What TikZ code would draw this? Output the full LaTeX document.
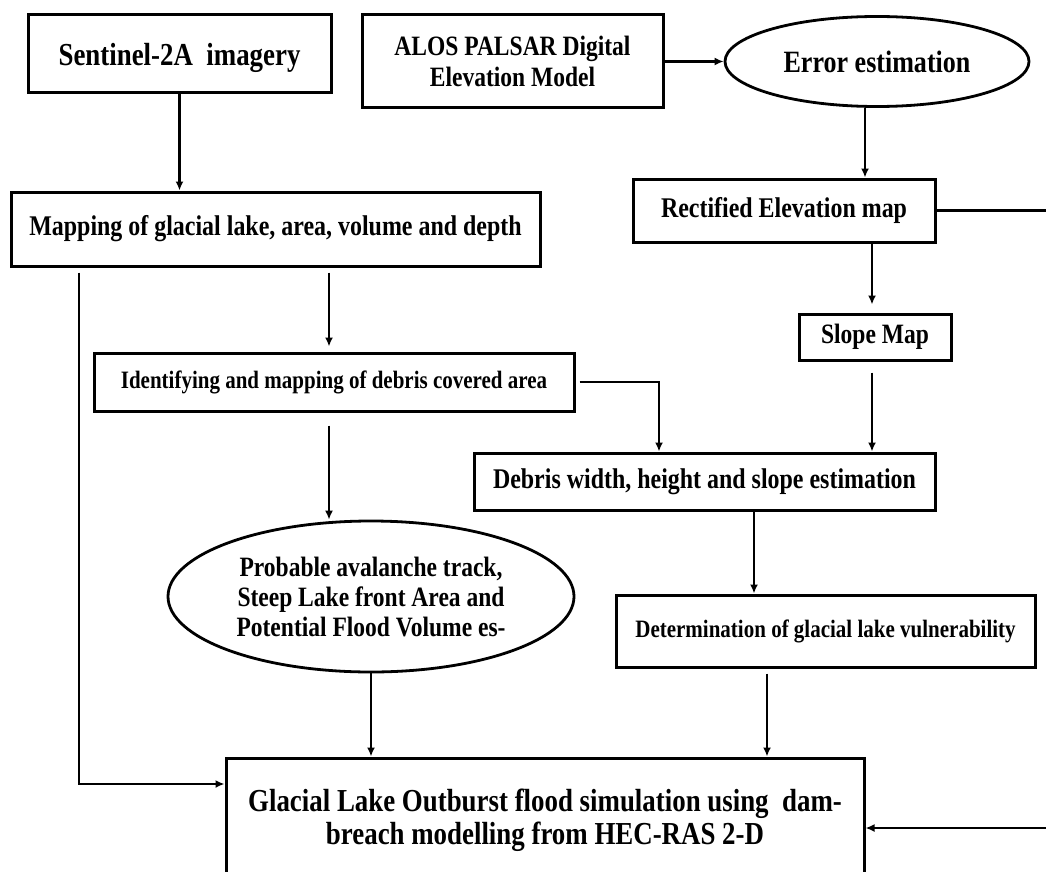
\documentclass[tikz,border=0pt]{standalone}
\usepackage{fontspec}
\setmainfont{Liberation Serif}[FakeStretch=0.84]
\usetikzlibrary{positioning, arrows.meta, shapes.geometric}
\newcommand{\fsz}[2]{\fontsize{#1}{#2}\selectfont\bfseries}

\begin{document}
\begin{tikzpicture}[x=1pt, y=-1pt, >={Latex[length=9pt,width=8pt]},
  bx/.style={draw, line width=3pt, inner sep=0pt, align=center},
  ell/.style={bx, ellipse, line width=2.8pt},
  s/.style={->, line width=2.3pt}]
\useasboundingbox (0,0) rectangle (1046,872);
% Inputs (top row).
\node[bx, minimum width=303pt, minimum height=78pt, text depth=0pt, font=\fsz{32}{35}] (sentinel) at (179.5,54) {Sentinel-2A\ \ imagery};
\node[bx, minimum width=301pt, minimum height=93pt, font=\fsz{28}{31}] (alos) at (512.5,61.5) {ALOS PALSAR Digital\\Elevation Model};
\node[ell, minimum width=304pt, minimum height=90pt, font=\fsz{31}{34}] (error) at (877,61.5) {Error estimation};
% Elevation branch (right).
\node[bx, minimum width=302pt, minimum height=63pt, font=\fsz{28.5}{31}] (rectified) at (784,210.5) {Rectified Elevation map};
\node[bx, minimum width=152pt, minimum height=46pt, font=\fsz{28}{31}] (slope) at (875,337) {Slope Map};
% Lake branch (left).
\node[bx, minimum width=529pt, minimum height=74pt, font=\fsz{28.5}{31}] (mapping) at (275.5,229) {Mapping of glacial lake, area, volume and depth};
\node[bx, minimum width=480pt, minimum height=58pt, font=\fsz{25}{28}] (identifying) at (334,382) {Identifying and mapping of debris covered area};
\node[bx, minimum width=461pt, minimum height=57pt, font=\fsz{28.5}{31}] (debris) at (704.5,481.5) {Debris width, height and slope estimation};
\node[ell, minimum width=406pt, minimum height=151pt, font=\fsz{28}{30}] (probable) at (371,596.5)
  {Probable avalanche track,\\Steep Lake front Area and\\Potential Flood Volume es-};
\node[bx, minimum width=419pt, minimum height=72pt, font=\fsz{25}{28}] (vulner) at (825.5,631) {Determination of glacial lake vulnerability};
% Final step, cut by the lower edge.
\node[bx, minimum width=638pt, minimum height=124pt, font=\fsz{32}{33}] (glof) at (545,820)
  {Glacial Lake Outburst flood simulation using\ \ dam-\\breach modelling from HEC-RAS 2-D};
% Columns of the vertical connectors.
\coordinate (cL) at (79,0); \coordinate (cM) at (329,0); \coordinate (cE) at (865,0);
\coordinate (cS) at (872,0); \coordinate (cD) at (659,0); \coordinate (cV) at (754,0);
\coordinate (cG) at (767,0); \coordinate (rim) at (1052,828);
\draw[s] (sentinel.south) -- (sentinel.south |- mapping.north);
\draw[s] (alos) -- (error);
\draw[s] (error.south -| cE) -- (rectified.north -| cE);
\draw[s, shorten >=8pt] (rectified.south -| cS) -- (slope.north -| cS);
\draw[s, shorten <=11pt] (slope.south -| cS) -- (debris.north -| cS);
\draw[s] (rectified.east) -| (rim) -- (glof.east |- rim);
\draw[s, shorten <=5pt, shorten >=5pt] (mapping.south -| cM) -- (identifying.north -| cM);
\draw[s, shorten <=5pt] (mapping.south -| cL) |- ([yshift=36pt]glof.west);
\draw[s, shorten <=4pt] (identifying.east) -| (debris.north -| cD);
\draw[s, shorten <=13pt] (identifying.south -| cM) -- (probable.north -| cM);
\draw[s] (probable.south) -- (probable.south |- glof.north);
\draw[s] (debris.south -| cV) -- (vulner.north -| cV);
\draw[s, shorten <=5pt] (vulner.south -| cG) -- (glof.north -| cG);
\end{tikzpicture}
\end{document}
